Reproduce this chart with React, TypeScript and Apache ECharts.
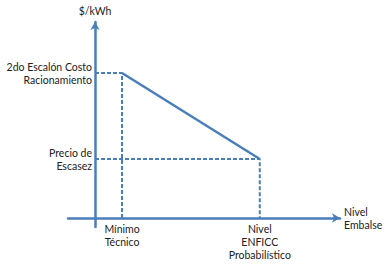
import React, { useEffect, useRef } from "react";
import * as echarts from "echarts";

const xTicks = [10, 61];
const xTickLabels = ["Mínimo\nTécnico", "Nivel\nENFICC\nProbabilístico"];
const yTicks = [59, 145];
const yTickLabels = ["Precio de\nEscasez", "2do Escalón Costo\nRacionamiento"];
const curveX = [10, 61];
const curveY = [145, 59];
const xName = "Nivel\nEmbalse";
const yName = "$/kWh";

const BLUE = "#4a7ebb";
const FONT = "Lato";
const FS = 10.5;

export default function App() {
  const ref = useRef<HTMLDivElement>(null);
  useEffect(() => {
    if (!ref.current) return;
    const chart = echarts.init(ref.current, null, { renderer: "svg" });
    const curve = curveX.map((x, i) => [x, curveY[i]]);
    const guides = curveX.map((x, i) => [
      [0, curveY[i]],
      [x, curveY[i]],
      [x, 0],
    ]);
    chart.setOption({
      animation: false,
      backgroundColor: "#ffffff",
      grid: {
        left: 68,
        right: 48,
        top: 22,
        bottom: 38,
        containLabel: false,
        outerBoundsMode: "none",
      },
      xAxis: {
        type: "value",
        min: -10,
        max: 90.7,
        name: xName,
        nameLocation: "end",
        nameGap: 4,
        nameTextStyle: {
          fontFamily: FONT,
          fontSize: FS,
          color: "#222",
          align: "left",
          verticalAlign: "middle",
          lineHeight: 13,
        },
        splitLine: { show: false },
        axisTick: { show: false },
        axisLine: {
          show: true,
          onZero: true,
          symbol: ["none", "arrow"],
          symbolSize: [7, 8],
          lineStyle: { color: BLUE, width: 2.5 },
        },
        axisLabel: {
          customValues: xTicks,
          formatter: (v: number) => xTickLabels[xTicks.indexOf(v)] ?? "",
          fontFamily: FONT,
          fontSize: FS,
          color: "#222",
          lineHeight: 13,
          margin: -5,
        },
      },
      yAxis: {
        type: "value",
        min: -9,
        max: 196,
        name: yName,
        nameLocation: "end",
        nameGap: 6,
        nameTextStyle: {
          fontFamily: FONT,
          fontSize: FS,
          color: "#222",
          align: "center",
        },
        splitLine: { show: false },
        axisTick: { show: false },
        axisLine: {
          show: true,
          onZero: true,
          symbol: ["none", "arrow"],
          symbolSize: [7, 8],
          lineStyle: { color: BLUE, width: 2.5 },
        },
        axisLabel: {
          customValues: yTicks,
          formatter: (v: number) => yTickLabels[yTicks.indexOf(v)] ?? "",
          fontFamily: FONT,
          fontSize: FS,
          color: "#222",
          lineHeight: 13,
          align: "right",
          margin: -24,
        },
      },
      series: [
        {
          type: "line",
          data: curve,
          symbol: "none",
          lineStyle: { color: BLUE, width: 2.5 },
          z: 3,
        },
        ...guides.map((g) => ({
          type: "line",
          data: g,
          symbol: "none",
          lineStyle: { color: BLUE, width: 2, type: [4, 2] },
          z: 2,
        })),
      ],
    });
    return () => chart.dispose();
  }, []);
  return (
    <div
      ref={ref}
      style={{ position: "fixed", left: 0, top: 0, width: 388, height: 265 }}
    />
  );
}
